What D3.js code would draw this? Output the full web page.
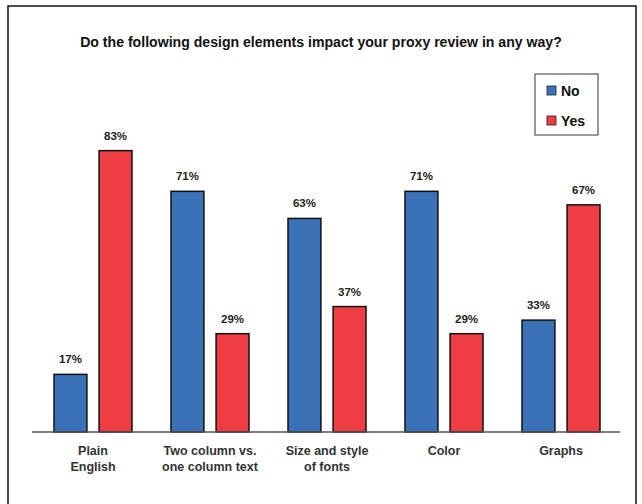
<!DOCTYPE html>
<html>
<head>
<meta charset="utf-8">
<script src="https://cdn.jsdelivr.net/npm/d3@7"></script>
<style>
  html, body { margin: 0; padding: 0; background: #fff; }
  svg { display: block; }
  text { font-family: "Liberation Sans Narrow", "Liberation Sans", Arial, sans-serif; font-weight: bold; }
</style>
</head>
<body>
<svg id="chart" width="642" height="504"></svg>
<script>
const title = "Do the following design elements impact your proxy review in any way?";
const categories = [["Plain", "English"], ["Two column vs.", "one column text"], ["Size and style", "of fonts"], ["Color"], ["Graphs"]];
const seriesNames = ["No", "Yes"];
const noValues = [17, 71, 63, 71, 33];
const yesValues = [83, 29, 37, 29, 67];
const colors = ["#3a71b7", "#ee3d43"];

const svg = d3.select("#chart");

// outer frame
svg.append("rect").attr("x", 8).attr("y", 6).attr("width", 628).attr("height", 520)
  .attr("fill", "none").attr("stroke", "#111").attr("stroke-width", 1.5);

svg.append("text").attr("x", 321).attr("y", 47).attr("text-anchor", "middle")
  .attr("font-size", 14.1).attr("fill", "#111").text(title);

const x0 = d3.scaleBand().domain(d3.range(categories.length)).range([34.5, 619.5]).padding(0);
const x1 = d3.scaleBand().domain(seriesNames).range([0, 78]).paddingInner(0.27);
const y = d3.scaleLinear().domain([0, 100]).range([432, 93]);

const data = categories.map((c, i) => ({ i, vals: [noValues[i], yesValues[i]] }));

const groups = svg.append("g").selectAll("g").data(data).join("g")
  .attr("transform", d => `translate(${x0(d.i) + x0.bandwidth() / 2 - 39},0)`);

groups.selectAll("rect").data(d => d.vals.map((v, k) => ({ v, k }))).join("rect")
  .attr("x", d => x1(seriesNames[d.k]))
  .attr("y", d => y(d.v))
  .attr("width", x1.bandwidth())
  .attr("height", d => y(0) - y(d.v))
  .attr("fill", d => colors[d.k])
  .attr("stroke", "#111").attr("stroke-width", 1.5);

groups.selectAll("text.val").data(d => d.vals.map((v, k) => ({ v, k }))).join("text")
  .attr("class", "val")
  .attr("x", d => x1(seriesNames[d.k]) + x1.bandwidth() / 2)
  .attr("y", d => y(d.v) - 11)
  .attr("text-anchor", "middle").attr("font-size", 11.5).attr("fill", "#222")
  .text(d => d.v + "%");

// axis
const xAxis = d3.axisBottom(x0).tickSize(0).tickFormat("");
const ax = svg.append("g").attr("transform", "translate(0,432)").call(xAxis);
ax.select(".domain").attr("d", "M32,0H620").attr("stroke", "#555").attr("stroke-width", 1.5);

// category labels
svg.append("g").selectAll("text").data(categories).join("text")
  .attr("text-anchor", "middle").attr("font-size", 12.5).attr("fill", "#333")
  .attr("transform", (d, i) => `translate(${x0(i) + x0.bandwidth() / 2},455)`)
  .selectAll("tspan").data(d => d).join("tspan")
  .attr("x", 0).attr("dy", (d, j) => j === 0 ? 0 : 16).text(d => d);

// legend
const lg = svg.append("g");
lg.append("rect").attr("x", 535).attr("y", 74).attr("width", 63).attr("height", 61)
  .attr("fill", "#fff").attr("stroke", "#333").attr("stroke-width", 1);
seriesNames.forEach((s, k) => {
  lg.append("rect").attr("x", 547).attr("y", 86 + k * 30).attr("width", 9).attr("height", 9)
    .attr("fill", colors[k]).attr("stroke", "#222").attr("stroke-width", 0.8);
  lg.append("text").attr("x", 561).attr("y", 95.5 + k * 30).attr("font-size", 14).attr("fill", "#111").text(s);
});
</script>
</body>
</html>
